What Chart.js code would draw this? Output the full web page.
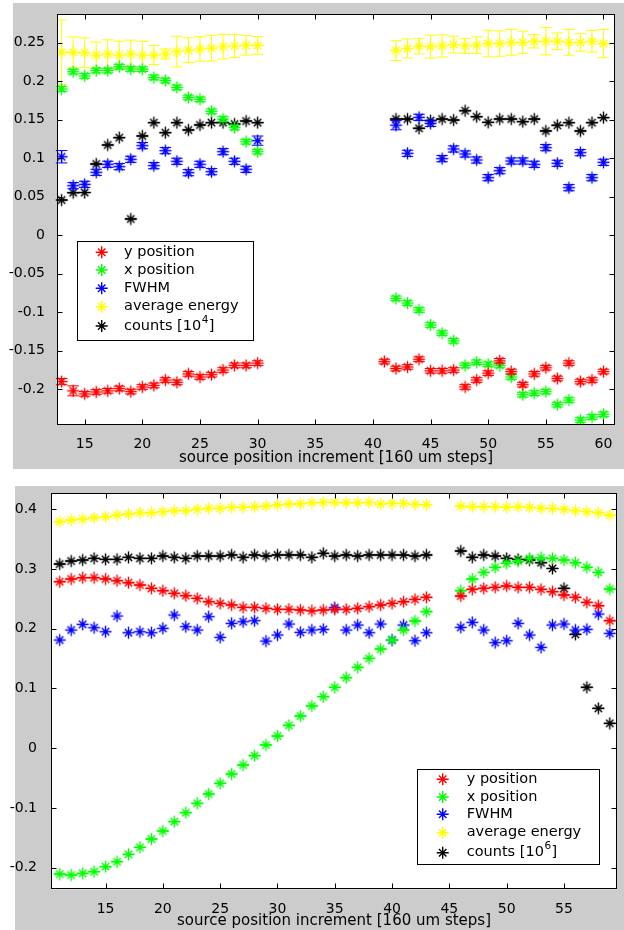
<!DOCTYPE html>
<html><head><meta charset="utf-8">
<script src="https://cdn.jsdelivr.net/npm/chart.js@4.4.1/dist/chart.umd.min.js"></script>
<style>
html,body{margin:0;padding:0;background:#fff;}
#wrap{position:relative;width:624px;height:930px;overflow:hidden;}
#c1{position:absolute;left:0;top:0;}
#c2{position:absolute;left:0;top:469px;}
</style></head><body>
<div id="wrap"><canvas id="c1" width="624" height="469"></canvas><canvas id="c2" width="624" height="461"></canvas></div>
<script>
// ---------- DATA ----------
const seriesLabelsTop = ['y position','x position','FWHM','average energy','counts [10^4]'];
const seriesLabelsBot = ['y position','x position','FWHM','average energy','counts [10^6]'];
const seriesColors = ['#ff0000','#00ff00','#0000ff','#ffff00','#000000'];
const xAxisTitle = 'source position increment [160 um steps]';

// top panel
const xTop = [13,14,15,16,17,18,19,20,21,22,23,24,25,26,27,28,29,30,
              41,42,43,44,45,46,47,48,49,50,51,52,53,54,55,56,57,58,59,60];
const yPosTop = [-0.190,-0.202,-0.206,-0.2035,-0.202,-0.199,-0.203,-0.197,-0.195,-0.188,-0.191,-0.180,-0.184,-0.181,-0.175,-0.169,-0.169,-0.166,
                 -0.164,-0.173,-0.171,-0.161,-0.176,-0.176,-0.175,-0.197,-0.188,-0.179,-0.163,-0.177,-0.194,-0.180,-0.172,-0.186,-0.166,-0.190,-0.188,-0.177];
const yPosTopErr = [0.004,0.0065,0.003,0.003,0.003,0.003,0.003,0.003,0.003,0.003,0.003,0.003,0.003,0.003,0.003,0.003,0.003,0.003,
                    0.003,0.003,0.003,0.003,0.003,0.003,0.003,0.003,0.003,0.003,0.003,0.003,0.003,0.003,0.003,0.003,0.003,0.003,0.003,0.003];
const xPosTop = [0.190,0.2125,0.207,0.214,0.214,0.219,0.216,0.2157,0.205,0.201,0.192,0.179,0.1766,0.161,0.151,0.140,0.1216,0.1086,
                 null,-0.082,-0.088,-0.097,-0.1165,-0.127,-0.137,-0.169,-0.165,-0.1675,-0.169,-0.184,-0.207,-0.205,-0.203,-0.220,-0.214,-0.240,-0.236,-0.2325];
const xPosTopErr = [0.003,0.003,0.003,0.003,0.003,0.003,0.003,0.003,0.003,0.003,0.003,0.003,0.003,0.003,0.003,0.003,0.003,0.003,
                    0,0.003,0.003,0.003,0.003,0.003,0.003,0.003,0.003,0.003,0.003,0.003,0.003,0.003,0.003,0.003,0.003,0.003,0.003,0.003];
const fwhmTop = [0.102,0.0644,0.0662,0.0818,0.0922,0.0891,0.0987,0.1164,0.0904,0.1099,0.0961,0.0813,0.0922,0.0826,0.1086,0.0961,0.0857,0.1229,
                 null,0.143,0.1065,0.1532,0.1454,0.0995,0.1121,0.1056,0.0978,0.0748,0.0839,0.0965,0.0965,0.0922,0.1138,0.0935,0.0618,0.1073,0.0748,0.0948];
const fwhmTopErr = [0.008,0.004,0.004,0.004,0.004,0.004,0.004,0.004,0.004,0.004,0.004,0.004,0.004,0.004,0.004,0.004,0.004,0.006,
                    0,0.006,0.004,0.004,0.004,0.004,0.004,0.004,0.004,0.004,0.004,0.004,0.004,0.004,0.004,0.004,0.004,0.004,0.004,0.004];
const energyTop = [0.2377,0.2376,0.237,0.234,0.2355,0.234,0.2355,0.234,0.234,0.2355,0.2385,0.2405,0.242,0.243,0.245,0.246,0.2466,0.2466,
                   null,0.2398,0.2427,0.2457,0.245,0.246,0.2478,0.246,0.247,0.249,0.249,0.2505,0.2505,0.252,0.252,0.252,0.2505,0.2505,0.252,0.249];
const energyTopErr = [0.042,0.020,0.0193,0.0169,0.0184,0.018,0.018,0.018,0.0123,0.0065,0.020,0.016,0.016,0.0167,0.016,0.015,0.0126,0.0115,
                      0,0.0128,0.0123,0.0102,0.0149,0.0145,0.0108,0.0097,0.0108,0.0173,0.0165,0.0167,0.0147,0.0087,0.0177,0.0108,0.0167,0.0113,0.0141,0.0184];
const countsTop = [0.0458,0.0553,0.0555,0.0926,0.1173,0.1268,0.0212,0.129,0.1463,0.1333,0.1463,0.1368,0.1433,0.1463,0.1463,0.1445,0.1484,0.1463,
                   null,0.151,0.151,0.139,0.1489,0.151,0.1497,0.1618,0.154,0.1467,0.151,0.151,0.1476,0.151,0.1355,0.1429,0.1463,0.1355,0.1463,0.1528];
const xTicksTop = [15,20,25,30,35,40,45,50,55,60];
const yTicksTop = [-0.2,-0.15,-0.1,-0.05,0,0.05,0.1,0.15,0.2,0.25];

// bottom panel
const xBot = [11,12,13,14,15,16,17,18,19,20,21,22,23,24,25,26,27,28,29,30,31,32,33,34,35,36,37,38,39,40,41,42,43,
              46,47,48,49,50,51,52,53,54,55,56,57,58,59];
const yPosBot = [0.2788,0.2833,0.2855,0.2855,0.2833,0.2805,0.2771,0.2732,0.2677,0.2637,0.2593,0.2554,0.2509,0.2453,0.2425,0.2398,0.2358,0.2358,0.2342,0.2325,0.2325,0.2314,0.2302,
                 0.2314,0.2325,0.2325,0.2342,0.2370,0.2398,0.2425,0.2453,0.2492,0.2526,
                 0.2548,0.2660,0.2677,0.2693,0.2716,0.2693,0.2693,0.2660,0.2621,0.2565,0.2526,0.2442,0.2386,0.2135];
const xPosBot = [-0.2106,-0.2123,-0.2095,-0.2067,-0.1983,-0.1900,-0.1777,-0.1660,-0.1520,-0.1386,-0.1230,-0.1079,-0.0923,-0.0767,-0.0588,-0.0432,-0.0281,-0.0125,0.0054,0.0204,0.0383,0.0539,0.0707,
                 0.0863,0.1019,0.1181,0.1354,0.1505,0.1661,0.1811,0.1979,0.2130,0.2286,
                 0.2637,0.2833,0.2944,0.3028,0.3095,0.3130,0.3179,0.3190,0.3179,0.3151,0.3106,0.3028,0.2944,0.2665];
const fwhmBot = [0.1811,0.1979,0.2074,0.2018,0.1951,0.2213,0.1934,0.1951,0.1934,0.2007,0.2230,0.2035,0.1979,0.2202,0.1856,0.2091,0.2118,0.2135,0.1794,0.1895,0.2079,0.1940,0.1979,
                 0.1990,0.2353,0.1979,0.2063,0.1934,0.2079,0.1811,0.2063,0.1800,0.1934,
                 0.2024,0.2107,0.1979,0.1767,0.1800,0.2091,0.1895,0.1689,0.2063,0.2079,0.1979,0.1990,0.2247,0.1923];
const energyBot = [0.3793,0.3821,0.3837,0.3860,0.3876,0.3904,0.3921,0.3943,0.3943,0.3960,0.3977,0.3977,0.3999,0.4016,0.4016,0.4033,0.4033,0.4044,0.4055,0.4072,0.4088,0.4094,0.4111,
                   0.4116,0.4116,0.4111,0.4111,0.4116,0.4088,0.4100,0.4100,0.4083,0.4077,
                   0.4055,0.4044,0.4044,0.4044,0.4033,0.4044,0.4033,0.4016,0.4016,0.3999,0.3977,0.3960,0.3943,0.3904];
const countsBot = [0.3084,0.3134,0.3151,0.3179,0.3162,0.3162,0.3196,0.3179,0.3179,0.3218,0.3196,0.3179,0.3218,0.3218,0.3218,0.3235,0.3196,0.3235,0.3218,0.3235,0.3235,0.3235,0.3196,
                   0.3263,0.3218,0.3235,0.3218,0.3235,0.3235,0.3235,0.3235,0.3218,0.3235,
                   0.3302,0.3196,0.3235,0.3218,0.3179,0.3162,0.3151,0.3106,0.3010,0.2677,0.1907,0.1020,0.0668,0.0417];
const xTicksBot = [15,20,25,30,35,40,45,50,55];
const yTicksBot = [-0.2,-0.1,0,0.1,0.2,0.3,0.4];

// ---------- RENDERING ----------
const FONT = 'DejaVu Sans';
function pts(xs, ys){ return xs.map((x,i)=>({x:x, y:ys[i]})); }

function drawStar(ctx, x, y, r){
  const d = r*0.62;
  ctx.beginPath();
  ctx.moveTo(x-r,y); ctx.lineTo(x+r,y);
  ctx.moveTo(x,y-r); ctx.lineTo(x,y+r);
  ctx.moveTo(x-d,y-d); ctx.lineTo(x+d,y+d);
  ctx.moveTo(x-d,y+d); ctx.lineTo(x+d,y-d);
  ctx.stroke();
}
function starSprite(color){
  const c = document.createElement('canvas');
  c.width = 15; c.height = 15;
  const g = c.getContext('2d');
  g.strokeStyle = color; g.lineWidth = 1.4;
  drawStar(g, 7.5, 7.5, 6);
  return c;
}
const sprites = seriesColors.map(starSprite);

const errorBars = {
  id:'errorBars',
  afterDatasetDraw(chart, args){
    const ds = chart.data.datasets[args.index];
    if(!ds.errors && !ds.caps) return;
    const xs = chart.scales.x, ys = chart.scales.y, ctx = chart.ctx;
    ctx.save();
    ctx.strokeStyle = ds.borderColor; ctx.lineWidth = 1;
    ds.data.forEach((p,i)=>{
      if(p.y==null) return;
      const e = ds.errors ? ds.errors[i] : 0;
      const px = xs.getPixelForValue(p.x);
      const hw = xs.getPixelForValue(p.x+0.5) - px;
      const y1 = ys.getPixelForValue(p.y+e), y2 = ys.getPixelForValue(p.y-e);
      ctx.beginPath();
      ctx.moveTo(px,y1); ctx.lineTo(px,y2);
      ctx.moveTo(px-hw,y1); ctx.lineTo(px+hw,y1);
      ctx.moveTo(px-hw,y2); ctx.lineTo(px+hw,y2);
      ctx.stroke();
    });
    ctx.restore();
  }
};

const frame = {
  id:'frame',
  beforeDraw(chart, args, o){
    const ctx = chart.ctx, a = chart.chartArea;
    ctx.save();
    ctx.fillStyle = '#ffffff'; ctx.fillRect(0,0,chart.width,chart.height);
    ctx.fillStyle = '#cccccc'; ctx.fillRect(o.bg[0],o.bg[1],o.bg[2],o.bg[3]);
    ctx.fillStyle = '#ffffff'; ctx.fillRect(a.left,a.top,a.right-a.left,a.bottom-a.top);
    ctx.restore();
  },
  afterDatasetsDraw(chart){
    const ctx = chart.ctx, a = chart.chartArea, xs = chart.scales.x, ys = chart.scales.y;
    ctx.save();
    ctx.strokeStyle = '#000'; ctx.lineWidth = 1;
    const L = Math.round(a.left)+0.5, R = Math.round(a.right)-0.5, T = Math.round(a.top)+0.5, B = Math.round(a.bottom)-0.5;
    ctx.strokeRect(L, T, R-L, B-T);
    const tl = 5;
    ctx.beginPath();
    xs.ticks.forEach(t=>{
      const px = Math.round(xs.getPixelForValue(t.value))+0.5;
      ctx.moveTo(px,B); ctx.lineTo(px,B-tl);
      ctx.moveTo(px,T); ctx.lineTo(px,T+tl);
    });
    ys.ticks.forEach(t=>{
      const py = Math.round(ys.getPixelForValue(t.value))+0.5;
      ctx.moveTo(L,py); ctx.lineTo(L+tl,py);
      ctx.moveTo(R,py); ctx.lineTo(R-tl,py);
    });
    ctx.stroke();
    ctx.restore();
  }
};

const boxLegend = {
  id:'boxLegend',
  afterDraw(chart, args, o){
    const ctx = chart.ctx;
    ctx.save();
    ctx.fillStyle = '#fff'; ctx.fillRect(o.x, o.y, o.w, o.h);
    ctx.strokeStyle = '#000'; ctx.lineWidth = 1;
    ctx.strokeRect(Math.round(o.x)+0.5, Math.round(o.y)+0.5, Math.round(o.w), Math.round(o.h));
    chart.data.datasets.forEach((ds,i)=>{
      const cy = o.rows[i];
      ctx.strokeStyle = ds.borderColor; ctx.lineWidth = 1.4;
      drawStar(ctx, o.mx, cy, 6);
      ctx.fillStyle = '#000'; ctx.textBaseline = 'middle'; ctx.textAlign = 'left';
      ctx.font = '14.5px "' + FONT + '"';
      const parts = ds.label.split('^');
      if(parts.length === 1){
        ctx.fillText(ds.label, o.tx, cy);
      } else {
        const base = parts[0];
        const sup = parts[1].replace(']','');
        ctx.fillText(base, o.tx, cy);
        let xx = o.tx + ctx.measureText(base).width;
        ctx.font = '10.5px "' + FONT + '"';
        ctx.fillText(sup, xx+0.5, cy-6);
        xx += ctx.measureText(sup).width + 1;
        ctx.font = '14.5px "' + FONT + '"';
        ctx.fillText(']', xx, cy);
      }
    });
    ctx.restore();
  }
};

function makeDatasets(labels, xs, series, errs, capsFlags){
  return series.map((s,i)=>({
    label: labels[i],
    data: pts(xs, s),
    errors: errs[i] || null,
    caps: capsFlags[i],
    borderColor: seriesColors[i],
    backgroundColor: seriesColors[i],
    pointStyle: sprites[i],
    pointRadius: 6,
    pointHoverRadius: 6,
    showLine: false
  }));
}

function makeOptions(cfg){
  return {
    responsive:false, animation:false,
    layout:{padding:{top:cfg.padTop, right:cfg.padRight, left:0, bottom:0}},
    scales:{
      x:{type:'linear', min:cfg.xmin, max:cfg.xmax,
        afterBuildTicks:s=>{s.ticks = cfg.xticks.map(v=>({value:v}));},
        afterFit:s=>{s.height = cfg.xh;},
        grid:{display:false}, border:{display:false},
        ticks:{color:'#000', font:{family:FONT, size:14}, padding:cfg.xpad, maxRotation:0, autoSkip:false, callback:v=>String(v)},
        title:{display:true, text:xAxisTitle, color:'#000', font:{family:FONT, size:15}, padding:{top:0, bottom:cfg.titlePad}}
      },
      y:{type:'linear', min:cfg.ymin, max:cfg.ymax,
        afterBuildTicks:s=>{s.ticks = cfg.yticks.map(v=>({value:v}));},
        afterFit:s=>{s.width = cfg.yw;},
        grid:{display:false}, border:{display:false},
        ticks:{color:'#000', font:{family:FONT, size:14}, padding:cfg.ypad, autoSkip:false, callback:v=>String(parseFloat(Number(v).toFixed(2)))}
      }
    },
    plugins:{
      legend:{display:false}, tooltip:{enabled:false},
      frame:{bg:cfg.bg},
      boxLegend:cfg.legend
    }
  };
}

new Chart(document.getElementById('c1'), {
  type:'scatter',
  data:{datasets: makeDatasets(seriesLabelsTop, xTop,
        [yPosTop, xPosTop, fwhmTop, energyTop, countsTop],
        [yPosTopErr, xPosTopErr, fwhmTopErr, energyTopErr, null],
        [true,true,true,true,true])},
  options: makeOptions({padTop:14, padRight:9, xmin:12.6, xmax:61, ymin:-0.246, ymax:0.2874,
    xticks:xTicksTop, yticks:yTicksTop, xh:44.3, yw:57, xpad:3, ypad:4, titlePad:2,
    bg:[13,3,611,466],
    legend:{x:77, y:241, w:176, h:99, mx:101.7, tx:124, rows:[252.3,270,288.3,306.7,326]}}),
  plugins:[frame, errorBars, boxLegend]
});

new Chart(document.getElementById('c2'), {
  type:'scatter',
  data:{datasets: makeDatasets(seriesLabelsBot, xBot,
        [yPosBot, xPosBot, fwhmBot, energyBot, countsBot],
        [null, null, null, null, null],
        [true,true,false,true,true])},
  options: makeOptions({padTop:24.3, padRight:2, xmin:10.24, xmax:59.63, ymin:-0.2362, ymax:0.4268,
    xticks:xTicksBot, yticks:yTicksBot, xh:40.7, yw:51, xpad:3.4, ypad:6, titlePad:0,
    bg:[15,17,609,444],
    legend:{x:417, y:300, w:182, h:95, mx:442.7, tx:466.7, rows:[310.3,328,345.3,363.7,383.7]}}),
  plugins:[frame, errorBars, boxLegend]
});
</script>
</body></html>
